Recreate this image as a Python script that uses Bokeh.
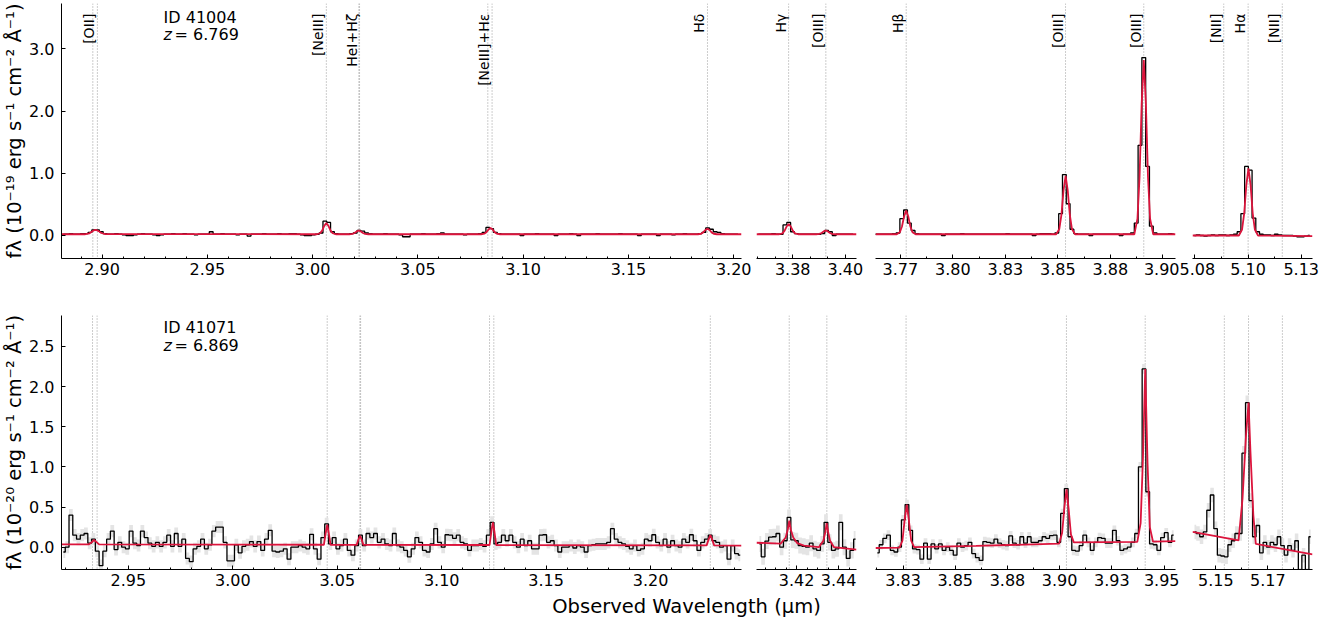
import numpy as np
from bokeh.plotting import figure
from bokeh.layouts import row, column
from bokeh.models import Range1d, FixedTicker, NumeralTickFormatter, Span, Label
from bokeh.core.properties import value
from bokeh.embed import file_html
from bokeh.resources import INLINE

FONT = "DejaVu Sans"
RED = "#dc143c"

# ---------------- data ----------------
galaxy_ids = ["ID 41004", "ID 41071"]
redshifts = [6.769, 6.869]
z_texts = ["= 6.769", "= 6.869"]

line_rest = [3727.09, 3729.88, 3869.86, 3889.75, 3890.17, 3968.59, 3971.20, 4102.89,
             4341.69, 4364.44, 4862.68, 4960.30, 5008.24, 6549.86, 6564.61, 6585.27]
label_names = ["[OII]", "[NeIII]", "HeI+Hζ", "[NeIII]+Hε", "Hδ", "Hγ", "[OIII]", "Hβ",
               "[OIII]", "[OIII]", "[NII]", "Hα", "[NII]"]
label_rest = [3729.88, 3869.86, 3890.17, 3971.20, 4102.89, 4341.69, 4364.44, 4862.68,
              4960.30, 5008.24, 6549.86, 6564.61, 6585.27]

top_xlims = [(2.8807, 3.2037), (3.3578, 3.4053), (3.7632, 3.9060), (5.0739, 5.1303)]
bot_xlims = [(2.9180, 3.2435), (3.4009, 3.4485), (3.8118, 3.9555), (5.1388, 5.1964)]
top_ylim = (-0.37, 3.73)
bot_ylim = (-0.278, 2.885)

top_ticks = [[2.90, 2.95, 3.00, 3.05, 3.10, 3.15, 3.20], [3.375, 3.400],
             [3.775, 3.800, 3.825, 3.850, 3.875, 3.900], [5.075, 5.100, 5.125]]
top_tick_labels = [["2.90", "2.95", "3.00", "3.05", "3.10", "3.15", "3.20"], ["3.38", "3.40"],
                   ["3.77", "3.80", "3.83", "3.85", "3.88", "3.90"], ["5.08", "5.10", "5.13"]]
bot_ticks = [[2.95, 3.00, 3.05, 3.10, 3.15, 3.20], [3.42, 3.44],
             [3.825, 3.850, 3.875, 3.900, 3.925, 3.950], [5.150, 5.175]]
bot_tick_labels = [["2.95", "3.00", "3.05", "3.10", "3.15", "3.20"], ["3.42", "3.44"],
                   ["3.83", "3.85", "3.88", "3.90", "3.93", "3.95"], ["5.15", "5.17"]]
top_minor = [0.01, 0.025 / 3, 0.0125, 0.0125]
bot_minor = [0.01, 0.005, 0.0125, 0.0125]
top_yticks = [0.0, 1.0, 2.0, 3.0]
bot_yticks = [0.0, 0.5, 1.0, 1.5, 2.0, 2.5]

# spectral pixel grids (start, step) per panel
top_grid_start = [2.8807, 3.3578, 3.7622, 5.0739]
top_grid_step = [0.0018, 0.0018, 0.0018, 0.00175]
bot_grid_start = [2.9180, 3.4014, 3.8118, 5.1389]
bot_grid_step = [0.0018, 0.00176, 0.001774, 0.00169]

# ---- ID 41004 fluxes (1e-19) ----
t1_flux = [0.02, 0.02, 0.03, 0.02, 0.02, 0.03, 0.03,
           0.05, 0.09, 0.09, 0.06,
           0.03, 0.02, 0.02, 0.03, 0.02,
           0.01, 0.00, 0.00, 0.01,
           0.02, 0.03, 0.02, 0.02, 0.01, 0.00, 0.01, 0.02, 0.02, 0.03,
           0.02, 0.02, 0.03, 0.02, 0.02, 0.01, 0.02, 0.02, 0.02, 0.06,
           0.02, 0.02, 0.03, 0.02, 0.02, 0.02, 0.01, 0.02, 0.02, -0.01,
           0.02, 0.02, 0.02, 0.03, 0.02, 0.02, 0.02, 0.03, 0.02, 0.02,
           0.03, 0.03, 0.02, 0.01, 0.00, 0.00, 0.01, 0.02, 0.04, 0.23,
           0.21, 0.06, 0.03, 0.02, 0.02, 0.02, 0.03, 0.04, 0.08, 0.07,
           0.04, 0.03, 0.02, 0.02, 0.02, 0.03, 0.02, 0.02, 0.02, 0.01,
           -0.02, -0.02, 0.02, 0.02, 0.02, 0.03, 0.02, 0.02, 0.02, 0.03,
           0.04, 0.02, 0.02, 0.02, 0.02, 0.02, 0.01, 0.02, 0.02, 0.02,
           0.03, 0.05, 0.13, 0.11, 0.05, 0.03, 0.02, 0.02, 0.02, 0.02,
           0.02, 0.00, 0.02, 0.02, 0.02, 0.03, 0.02, 0.02, 0.02, 0.02,
           0.00, 0.02, 0.02, 0.02, 0.03, 0.02, 0.00, 0.02, 0.02, 0.02,
           0.02, 0.03, 0.02, 0.02, 0.02, 0.02, 0.02, 0.03, 0.02, 0.02,
           0.02, 0.02, 0.00, 0.02, 0.02, 0.02, 0.02, 0.00, 0.02, 0.02,
           0.02, 0.01, 0.02, 0.02, 0.03, 0.02, 0.02, 0.02, 0.03, 0.05,
           0.12, 0.10, 0.06, 0.05, 0.03, 0.02, 0.02, 0.02, 0.02]
t2_flux = [0.02, 0.02, 0.02, 0.02, 0.03, 0.02, 0.02, 0.17, 0.21, 0.06,
           0.03, 0.02, 0.02, 0.02, 0.02, 0.02, 0.02, 0.03, 0.08, 0.06,
           0.00, 0.02, 0.02, 0.02, 0.02, 0.02]
t3_flux = [0.02, 0.02, 0.02, 0.02, 0.02, 0.03, 0.04, 0.27, 0.41, 0.20,
           0.08, 0.03, 0.02, 0.02, 0.02, 0.02, 0.02, 0.02, 0.00, 0.02,
           0.02, 0.02, 0.02, 0.03, 0.02, 0.02, 0.02, 0.02, 0.02, 0.02,
           0.02, 0.02, 0.02, 0.02, 0.02, 0.03, 0.02, 0.02, 0.02, 0.02,
           0.02, 0.02, 0.00, 0.02, 0.03, 0.03, 0.03, 0.02, 0.04, 0.35,
           0.98, 0.51, 0.10, 0.03, 0.02, 0.02, 0.02, 0.00, 0.02, 0.02,
           0.02, 0.02, 0.02, 0.02, 0.02, 0.00, 0.02, 0.02, 0.04, 0.20,
           1.45, 2.86, 1.11, 0.15, 0.04, 0.02, 0.02, 0.02, 0.03, 0.02]
t4_flux = [0.00, 0.01, 0.00, -0.01, 0.00, 0.01, 0.00, 0.01, 0.01, 0.00,
           0.01, 0.02, 0.06, 0.35, 1.11, 1.05, 0.28, 0.06, 0.02, 0.01,
           0.01, 0.00, 0.02, 0.01, 0.00, 0.00, 0.00, -0.01, -0.02, -0.02,
           -0.01, 0.00]

# ---- ID 41071 fluxes (1e-20) ----
b1_flux = [-0.06, 0.00, 0.40, 0.15, 0.10, 0.15, 0.17, 0.05, 0.10, -0.05,
           -0.23, -0.05, 0.10, 0.20, -0.03, 0.06, 0.00, -0.02, 0.20, 0.05,
           0.02, 0.20, 0.12, 0.05, 0.01, 0.06, 0.01, 0.06, 0.15, 0.01,
           0.17, 0.01, 0.10, -0.14, -0.18, -0.02, 0.01, 0.10, -0.02, 0.03,
           0.20, 0.25, 0.25, 0.06, -0.17, -0.17, 0.03, -0.07, 0.01, 0.03,
           0.07, 0.01, 0.07, -0.04, 0.10, 0.21, -0.05, -0.06, -0.05, -0.02,
           -0.15,
           0.00, 0.00, 0.02, 0.00, -0.02, 0.16, -0.02, -0.15, 0.12, 0.29,
           0.04, 0.12, -0.02, 0.02, 0.10, -0.04, -0.10, 0.02, 0.15, 0.02,
           0.17, 0.12, 0.17, 0.06, 0.10, 0.04, 0.02, 0.17, 0.02, 0.00,
           -0.04, -0.12, -0.02, 0.12, 0.06, -0.04, -0.06, 0.04, 0.23, 0.06,
           0.00, 0.155, 0.15, 0.11, 0.15, 0.06, 0.04, -0.04, 0.02, 0.02,
           0.04, 0.01, 0.15, 0.31, 0.04, 0.06, 0.15, 0.08, 0.15, 0.06,
           0.00, 0.10, 0.02, 0.08, -0.02, -0.02, 0.15, 0.155, 0.06, 0.08,
           0.02, -0.06, 0.00, 0.00, 0.02, -0.01, 0.02, 0.00, -0.06, 0.02,
           0.03, 0.04, 0.04, 0.04, 0.06, 0.23, 0.10, 0.06, 0.04, 0.01,
           -0.02, 0.02, -0.04, -0.02, 0.10, 0.08, 0.155, 0.06, 0.02, 0.10,
           0.00, 0.08, 0.02, 0.00, 0.10, 0.06, 0.155, 0.08, -0.04, 0.06,
           0.10, 0.15, 0.08, 0.06, 0.00, 0.02, -0.15, 0.02, -0.08, -0.10]
b2_flux = [0.04, -0.12, 0.076, 0.125, 0.13, 0.17, 0.00, 0.08, 0.37, 0.09,
           0.08, 0.02, 0.01, 0.00, 0.05, -0.02, -0.04, 0.04, 0.31, 0.06,
           -0.04, -0.02, 0.31, 0.00, -0.14, -0.04, 0.10]
b3_flux = [-0.07, 0.03, 0.11, 0.15, -0.04, -0.06, 0.00, 0.34, 0.53, 0.21,
           -0.02, -0.03, -0.15, 0.05, -0.15, 0.04, -0.02, 0.04, -0.04, 0.00,
           -0.04, -0.10, 0.05, 0.00, 0.02, 0.06, -0.08, -0.13, -0.165, 0.07,
           0.06, 0.05, 0.10, 0.05, 0.03, 0.02, 0.14, 0.05, 0.03, 0.13,
           0.05, 0.13, 0.06, 0.06, 0.08, 0.13, 0.11, 0.145, 0.15, 0.06,
           0.42, 0.73, 0.13, -0.04, -0.05, 0.02, 0.15, 0.06, -0.04, 0.06,
           0.12, 0.11, 0.05, 0.05, 0.21, 0.08, -0.04, -0.02, 0.00, 0.06,
           0.17, 1.00, 2.22, 0.69, 0.04, 0.03, -0.04, 0.12, 0.18, 0.06,
           0.15]
b4_flux = [0.19, 0.17, 0.13, 0.19, 0.46, 0.65, 0.23, -0.10, -0.11, -0.12,
           0.03, 0.08, 0.17, 0.17, 1.17, 1.80, 0.58, 0.13, 0.27, -0.07,
           0.06, 0.00, 0.06, 0.03, 0.13, 0.02, -0.10, 0.02, -0.04, 0.08,
           -0.35, -0.10, -0.35, 0.13]

top_err = [0.012, 0.012, 0.012, 0.012]
bot_err = [0.075, 0.10, 0.06, 0.09]

# ---- best-fit models ----
t1_model_x = [2.8807, 2.8920, 2.8940, 2.8952, 2.8962, 2.8972, 2.8984, 2.8996, 2.9015,
              3.0020, 3.0035, 3.0045, 3.0055, 3.0065, 3.0075, 3.0085, 3.0095, 3.0110,
              3.0174, 3.0189, 3.0199, 3.0209, 3.0219, 3.0229, 3.0239, 3.0249, 3.0264,
              3.0800, 3.0815, 3.0825, 3.0835, 3.0845, 3.0855, 3.0865, 3.0875, 3.0890,
              3.1830, 3.1845, 3.1855, 3.1865, 3.1875, 3.1885, 3.1895, 3.1905, 3.1920, 3.2037]
t1_model_y = [0.020, 0.020, 0.035, 0.065, 0.085, 0.088, 0.070, 0.040, 0.022,
              0.020, 0.036, 0.079, 0.155, 0.200, 0.155, 0.079, 0.036, 0.020,
              0.020, 0.025, 0.040, 0.065, 0.080, 0.065, 0.040, 0.025, 0.020,
              0.020, 0.029, 0.053, 0.095, 0.120, 0.095, 0.053, 0.029, 0.020,
              0.020, 0.028, 0.050, 0.088, 0.110, 0.088, 0.050, 0.028, 0.020, 0.020]
t2_model_x = [3.3578, 3.3686, 3.3701, 3.3711, 3.3721, 3.3731, 3.3741, 3.3751, 3.3761, 3.3776,
              3.3862, 3.3877, 3.3887, 3.3897, 3.3907, 3.3917, 3.3927, 3.3937, 3.3952, 3.4053]
t2_model_y = [0.02, 0.02, 0.035, 0.074, 0.144, 0.185, 0.144, 0.074, 0.035, 0.02,
              0.02, 0.025, 0.04, 0.065, 0.08, 0.065, 0.04, 0.025, 0.02, 0.02]
t3_model_x = [3.7632, 3.7733, 3.7748, 3.7758, 3.7768, 3.7778, 3.7788, 3.7798, 3.7808, 3.7823,
              3.8492, 3.8507, 3.8517, 3.8527, 3.8537, 3.8547, 3.8557, 3.8567, 3.8582,
              3.8864, 3.8879, 3.8889, 3.8899, 3.8909, 3.8919, 3.8929, 3.8939, 3.8954, 3.9060]
t3_model_y = [0.02, 0.02, 0.054, 0.145, 0.305, 0.40, 0.305, 0.145, 0.054, 0.02,
              0.02, 0.105, 0.33, 0.725, 0.96, 0.725, 0.33, 0.105, 0.02,
              0.02, 0.272, 0.944, 2.12, 2.82, 2.12, 0.944, 0.272, 0.02, 0.02]
t4_model_x = [5.0739, 5.0957, 5.0972, 5.0982, 5.0992, 5.1002, 5.1012, 5.1022, 5.1032, 5.1047, 5.1303]
t4_model_y = [0.0, 0.0, 0.097, 0.357, 0.81, 1.08, 0.81, 0.357, 0.097, 0.0, -0.01]

b1_model_x = [2.9180, 2.9310, 2.9325, 2.9335, 2.9345, 2.9360, 3.0436, 3.0445, 3.0452, 3.0459,
              3.0468, 3.0593, 3.0602, 3.0609, 3.0616, 3.0625, 3.1229, 3.1238, 3.1245, 3.1252,
              3.1261, 3.2268, 3.2278, 3.2286, 3.2294, 3.2304, 3.2435]
b1_model_y = [0.035, 0.034, 0.06, 0.09, 0.07, 0.034, 0.030, 0.18, 0.28, 0.18,
              0.030, 0.029, 0.10, 0.14, 0.10, 0.029, 0.027, 0.20, 0.31, 0.20,
              0.027, 0.022, 0.10, 0.15, 0.10, 0.022, 0.020]
b2_model_x = [3.4009, 3.4124, 3.4148, 3.4158, 3.4165, 3.4172, 3.4184, 3.4203, 3.4235,
              3.4306, 3.4327, 3.4337, 3.4343, 3.4350, 3.4359, 3.4378, 3.4485]
b2_model_y = [0.055, 0.045, 0.12, 0.22, 0.33, 0.22, 0.12, 0.05, 0.02,
              0.0, 0.08, 0.19, 0.30, 0.19, 0.08, 0.0, -0.03]
b3_model_x = [3.8118, 3.8233, 3.8247, 3.8258, 3.8268, 3.8278, 3.8289, 3.8303, 3.8600,
              3.8998, 3.9012, 3.9023, 3.9033, 3.9043, 3.9054, 3.9068,
              3.9372, 3.9388, 3.9399, 3.9410, 3.9421, 3.9432, 3.9447, 3.9555]
b3_model_y = [-0.01, -0.005, 0.08, 0.35, 0.53, 0.33, 0.08, 0.0, 0.015,
              0.045, 0.18, 0.50, 0.72, 0.48, 0.16, 0.06,
              0.065, 0.30, 1.10, 2.22, 1.05, 0.25, 0.07, 0.075]
b4_model_x = [5.1388, 5.1609, 5.1628, 5.1645, 5.1657, 5.1666, 5.1680, 5.1692, 5.1964]
b4_model_y = [0.19, 0.085, 0.60, 1.40, 1.80, 1.20, 0.40, 0.04, -0.09]

top_flux = [t1_flux, t2_flux, t3_flux, t4_flux]
bot_flux = [b1_flux, b2_flux, b3_flux, b4_flux]
top_models = [(t1_model_x, t1_model_y), (t2_model_x, t2_model_y), (t3_model_x, t3_model_y), (t4_model_x, t4_model_y)]
bot_models = [(b1_model_x, b1_model_y), (b2_model_x, b2_model_y), (b3_model_x, b3_model_y), (b4_model_x, b4_model_y)]

y_labels = ["fλ (10⁻¹⁹ erg s⁻¹ cm⁻² Å⁻¹)", "fλ (10⁻²⁰ erg s⁻¹ cm⁻² Å⁻¹)"]
x_label = "Observed Wavelength (μm)"

# text anchor positions (data units of first panel)
id_text_x = [2.9292, 2.9668]
id_text_y = [3.508, 2.732]
z_text_y = [3.225, 2.512]
line_label_y = 3.567

# ---------------- layout ----------------
fig_widths = [756, 108, 315, 160]
border_left = [61, 0, 11, 13]
border_right = [15, 8, 4, 27]
row_heights = [300, 292]
row_borders = [(3, 42), (15, 23)]
label_fig_height = 32


def make_panel(r, k):
    xl = top_xlims[k] if r == 0 else bot_xlims[k]
    yl = top_ylim if r == 0 else bot_ylim
    bt, bb = row_borders[r]
    p = figure(width=fig_widths[k], height=row_heights[r],
               x_range=Range1d(*xl), y_range=Range1d(*yl),
               output_backend="svg", toolbar_location=None,
               min_border_left=border_left[k], min_border_right=border_right[k],
               min_border_top=bt, min_border_bottom=bb)
    p.outline_line_color = None
    p.xgrid.visible = False
    p.ygrid.visible = False
    p.background_fill_color = "white"
    p.border_fill_color = "white"

    ticks = top_ticks[k] if r == 0 else bot_ticks[k]
    labs = top_tick_labels[k] if r == 0 else bot_tick_labels[k]
    ms = top_minor[k] if r == 0 else bot_minor[k]
    minor = list(np.arange(np.ceil(xl[0] / ms) * ms, xl[1], ms))
    ax = p.xaxis[0]
    ax.ticker = FixedTicker(ticks=ticks, minor_ticks=minor)
    ax.major_label_overrides = {t: l for t, l in zip(ticks, labs)}
    ax.major_tick_in = 4
    ax.major_tick_out = 0
    ax.minor_tick_in = 2
    ax.minor_tick_out = 0
    ax.major_label_standoff = 4
    ax.major_label_text_font = FONT
    ax.major_label_text_font_size = "16px"
    ax.major_label_text_color = "black"
    ax.axis_line_color = "black"
    ax.major_tick_line_color = "black"
    ax.minor_tick_line_color = "black"

    ay = p.yaxis[0]
    if k == 0:
        ay.ticker = FixedTicker(ticks=top_yticks if r == 0 else bot_yticks, minor_ticks=[])
        ay.formatter = NumeralTickFormatter(format="0.0")
        ay.major_tick_in = 4
        ay.major_tick_out = 0
        ay.minor_tick_line_color = None
        ay.major_label_standoff = 7
        ay.major_label_text_font = FONT
        ay.major_label_text_font_size = "16px"
        ay.major_label_text_color = "black"
        ay.axis_line_color = "black"
        ay.axis_label = y_labels[r]
        ay.axis_label_text_font = FONT
        ay.axis_label_text_font_size = "19.5px"
        ay.axis_label_text_font_style = "normal"
        ay.axis_label_text_color = "black"
        ay.axis_label_standoff = 0
    else:
        ay.visible = False

    z = redshifts[r]
    for rest in line_rest:
        lam = rest * (1 + z) / 1e4
        if xl[0] < lam < xl[1]:
            p.add_layout(Span(location=lam, dimension="height", line_color="#9a9a9a",
                              line_dash="1 2", line_width=1, level="underlay"))

    flux = np.array(top_flux[k] if r == 0 else bot_flux[k])
    start = top_grid_start[k] if r == 0 else bot_grid_start[k]
    step = top_grid_step[k] if r == 0 else bot_grid_step[k]
    lam = start + step * (np.arange(len(flux)) + 0.5)
    err = top_err[k] if r == 0 else bot_err[k]
    p.varea_step(x=lam, y1=flux - err, y2=flux + err, step_mode="center",
                 fill_color="#e4e4e4", fill_alpha=1.0)
    p.step(x=lam, y=flux, mode="center", line_color="black", line_width=1.3)

    mx, my = top_models[k] if r == 0 else bot_models[k]
    p.line(mx, my, line_color=RED, line_width=1.8)

    if r == 0:
        for name, rest in zip(label_names, label_rest):
            lam_l = rest * (1 + z) / 1e4
            if xl[0] < lam_l < xl[1]:
                p.text(x=[lam_l], y=[line_label_y], text=[name], angle=np.pi / 2,
                       text_align="right", text_baseline="bottom",
                       text_font=value(FONT), text_font_size="14px", text_color="black")

    if k == 0:
        p.text(x=[id_text_x[r]], y=[id_text_y[r]], text=[galaxy_ids[r]],
               text_align="left", text_baseline="alphabetic",
               text_font=value(FONT), text_font_size="16px", text_color="black")
        p.text(x=[id_text_x[r]], y=[z_text_y[r]], text=["z"],
               text_align="left", text_baseline="alphabetic", text_font_style="italic",
               text_font=value(FONT), text_font_size="16px", text_color="black")
        p.text(x=[id_text_x[r]], y=[z_text_y[r]], text=[z_texts[r]], x_offset=11,
               text_align="left", text_baseline="alphabetic",
               text_font=value(FONT), text_font_size="16px", text_color="black")
    return p


top_row = [make_panel(0, k) for k in range(4)]
bot_row = [make_panel(1, k) for k in range(4)]

lab = figure(width=1339, height=label_fig_height, x_range=Range1d(0, 1339),
             y_range=Range1d(0, label_fig_height),
             output_backend="svg", toolbar_location=None, min_border=0)
lab.xaxis.visible = False
lab.yaxis.visible = False
lab.xgrid.visible = False
lab.ygrid.visible = False
lab.outline_line_color = None
lab.add_layout(Label(x=686, y=18, text=x_label, text_align="center", text_baseline="middle",
                     text_font=FONT, text_font_size="19.5px", text_color="black"))

layout = column(row(*top_row), row(*bot_row), lab)
open("out.html", "w").write(file_html(layout, INLINE))
